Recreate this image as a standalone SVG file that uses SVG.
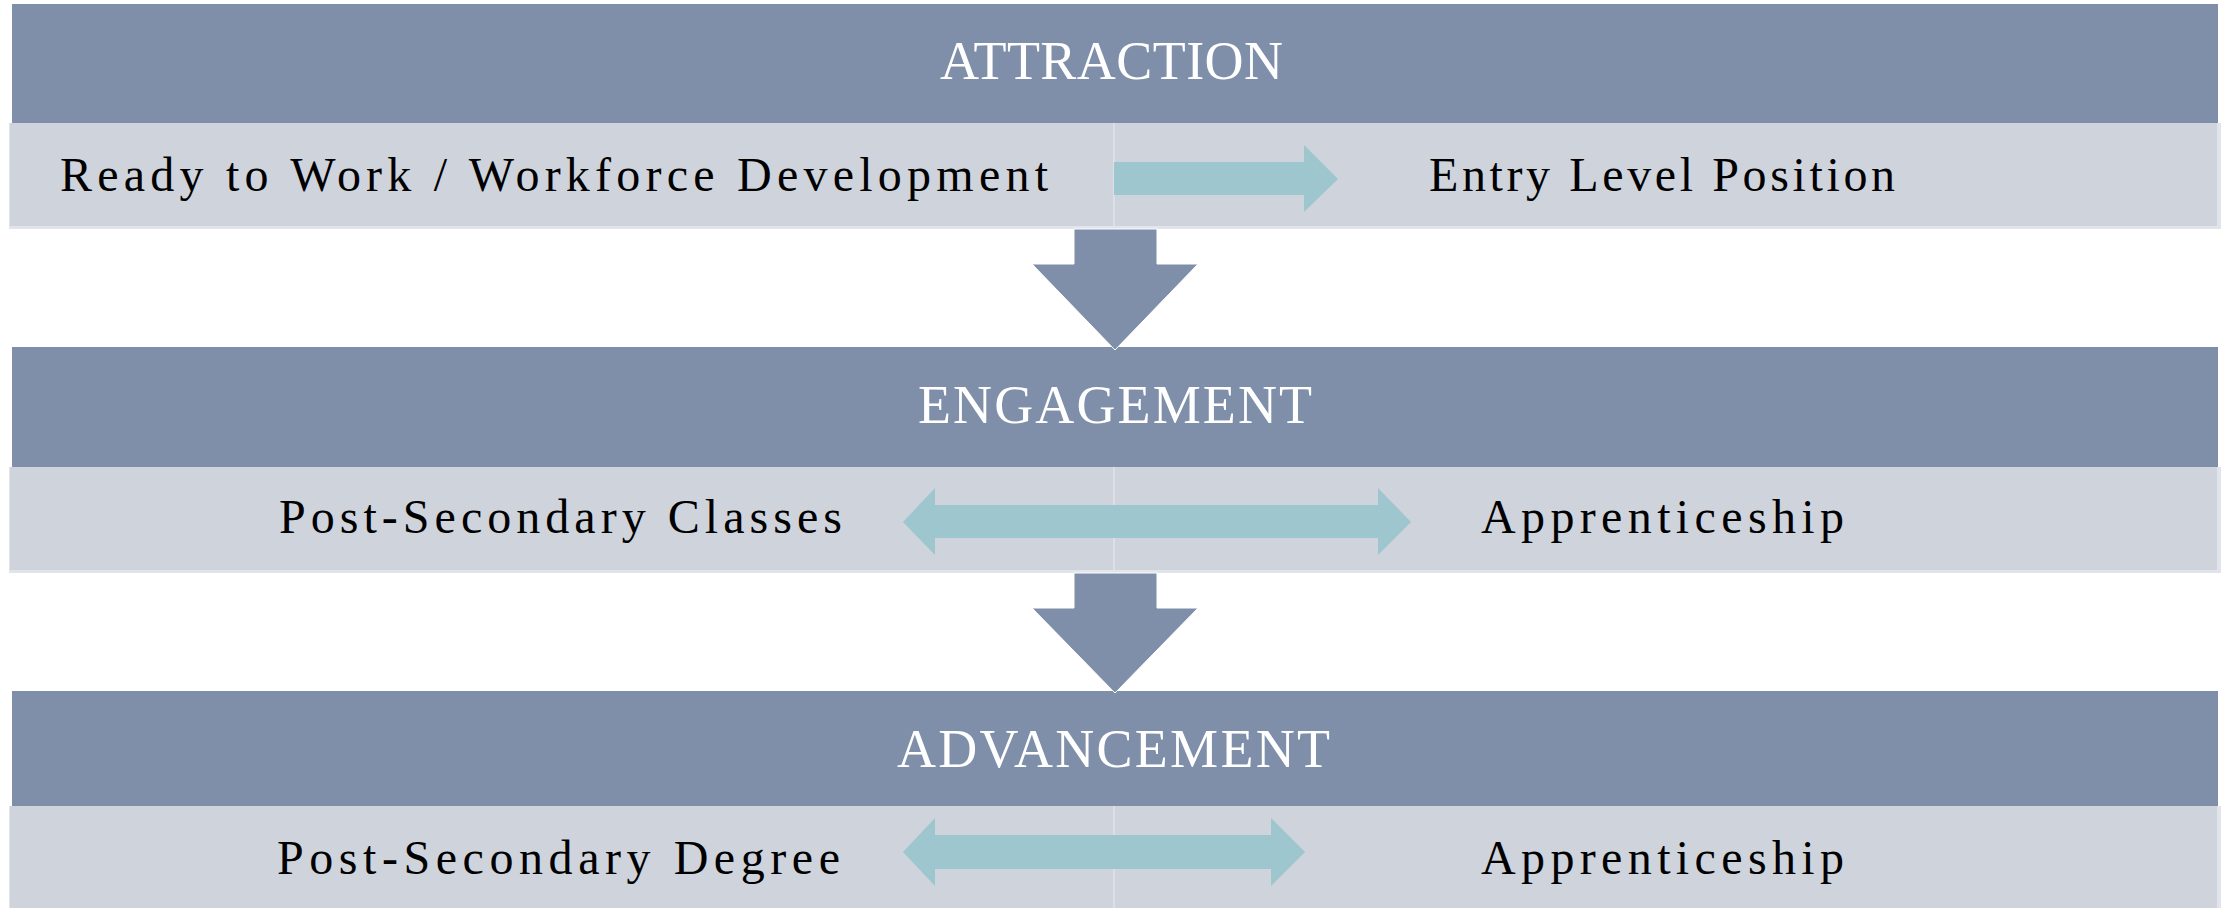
<svg xmlns="http://www.w3.org/2000/svg" width="2231" height="908" viewBox="0 0 2231 908">
  <style>
    .hdr { fill: #7F8FA9; }
    .band-edge { fill: #E1E4EA; }
    .band { fill: #CED3DC; }
    .divider { fill: #DCE0E6; }
    .down { fill: #7F8FA9; stroke: #FFFFFF; stroke-width: 1; }
    .flow { fill: #9DC6CE; }
    .title { font-family: "Liberation Serif", "Times New Roman", serif; font-size: 54px; fill: #FFFFFF; }
    .item { font-family: "Liberation Serif", "Times New Roman", serif; font-size: 48px; fill: #000000; }
  </style>

  <rect x="0" y="0" width="2231" height="908" fill="#FFFFFF"/>

  <!-- Stage 1 -->
  <g id="attraction">
    <rect class="hdr" x="12" y="4" width="2206" height="119"/>
    <rect class="band-edge" x="9" y="123" width="2212" height="106"/>
    <rect class="band" x="10" y="123" width="2207" height="103"/>
    <rect class="divider" x="1113" y="123" width="2" height="103"/>
    <text class="title" x="940" y="79" textLength="343" lengthAdjust="spacing">ATTRACTION</text>
  </g>
  <g id="ready-to-work">
    <text class="item" x="60" y="191" textLength="988" lengthAdjust="spacing">Ready to Work / Workforce Development</text>
  </g>
  <g id="entry-level">
    <text class="item" x="1429" y="191" textLength="466" lengthAdjust="spacing">Entry Level Position</text>
  </g>

  <!-- Stage 2 -->
  <g id="engagement">
    <rect class="hdr" x="12" y="347" width="2206" height="120"/>
    <rect class="band-edge" x="9" y="467" width="2212" height="106"/>
    <rect class="band" x="10" y="467" width="2207" height="103"/>
    <rect class="divider" x="1113" y="467" width="2" height="103"/>
    <text class="title" x="918" y="423" textLength="394" lengthAdjust="spacing">ENGAGEMENT</text>
  </g>
  <g id="post-secondary-classes">
    <text class="item" x="279" y="533" textLength="563" lengthAdjust="spacing">Post-Secondary Classes</text>
  </g>
  <g id="apprenticeship-1">
    <text class="item" x="1481" y="533" textLength="363" lengthAdjust="spacing">Apprenticeship</text>
  </g>

  <!-- Stage 3 -->
  <g id="advancement">
    <rect class="hdr" x="12" y="691" width="2206" height="115"/>
    <rect class="band-edge" x="9" y="806" width="2212" height="102"/>
    <rect class="band" x="10" y="806" width="2207" height="102"/>
    <rect class="divider" x="1113" y="806" width="2" height="102"/>
    <text class="title" x="897" y="767" textLength="433" lengthAdjust="spacing">ADVANCEMENT</text>
  </g>
  <g id="post-secondary-degree">
    <text class="item" x="277" y="874" textLength="563" lengthAdjust="spacing">Post-Secondary Degree</text>
  </g>
  <g id="apprenticeship-2">
    <text class="item" x="1481" y="874" textLength="363" lengthAdjust="spacing">Apprenticeship</text>
  </g>

  <!-- Connectors -->
  <g id="connectors">
    <!-- stage-to-stage block arrows -->
    <polygon class="down" points="1074,229 1157,229 1157,264 1198,264 1115,350 1032,264 1074,264"/>
    <polygon class="down" points="1074,573 1157,573 1157,608 1198,608 1115,693 1032,608 1074,608"/>
    <!-- within-stage arrows -->
    <polygon class="flow" points="1114,162 1304,162 1304,145 1338,179 1304,212 1304,195 1114,195"/>
    <polygon class="flow" points="903,522 935,488 935,505 1378,505 1378,488 1411,522 1378,555 1378,538 935,538 935,555"/>
    <polygon class="flow" points="903,852 935,818 935,835 1271,835 1271,818 1305,852 1271,886 1271,869 935,869 935,886"/>
  </g>
</svg>
